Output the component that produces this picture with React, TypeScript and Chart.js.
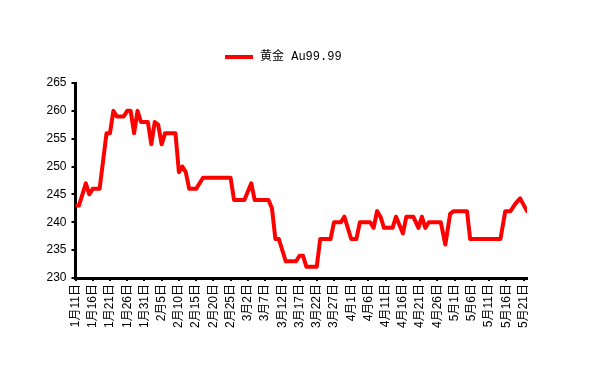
import React, { useEffect, useRef } from "react";
import { Chart, registerables } from "chart.js";

Chart.register(...registerables);

// Days counted from 1月11日
const dayOffsets = [
  0, 1, 3, 4, 5, 7, 9, 10, 11, 12, 14, 15, 16, 17, 18, 19, 21, 22, 23, 24, 25, 26, 29,
  30, 31, 32, 33, 35, 37, 45, 46, 49, 51, 52, 56, 57, 58, 59, 61, 64, 65, 66, 67, 70,
  71, 74, 75, 77, 78, 80, 81.5, 82.5, 85.5, 86.5, 87.5, 88.5, 89.5, 92, 93, 95, 96, 98,
  99.5, 100.5, 101.5, 102.5, 106, 107.3, 108.7, 109.7, 113.6, 114.5, 123.3, 124.7, 126.2,
  127.6, 129, 131,
];
const prices = [
  243, 243, 247, 245, 246, 246, 256, 256, 260, 259, 259, 260, 260, 256, 260, 258, 258, 254,
  258, 257.5, 254, 256, 256, 249, 250, 249, 246, 246, 248, 248, 244, 244, 247, 244, 244,
  242.5, 237, 237, 233, 233, 234, 234, 232, 232, 237, 237, 240, 240, 241, 237, 237, 240,
  240, 239, 242, 241, 239, 239, 241, 238, 241, 241, 239, 241, 239, 240, 240, 236, 241.5,
  242, 242, 237, 237, 242, 242, 243.3, 244.3, 242,
];
const tickLabels = [
  "1月11日", "1月16日", "1月21日", "1月26日", "1月31日", "2月5日", "2月10日", "2月15日",
  "2月20日", "2月25日", "3月2日", "3月7日", "3月12日", "3月17日", "3月22日", "3月27日",
  "4月1日", "4月6日", "4月11日", "4月16日", "4月21日", "4月26日", "5月1日", "5月6日",
  "5月11日", "5月16日", "5月21日",
];
const seriesName = "黄金 Au99.99";

const legendPlugin = {
  id: "lineLegend",
  afterDraw(chart: any) {
    const ctx = chart.ctx;
    const ds = chart.data.datasets[0];
    ctx.save();
    ctx.strokeStyle = ds.borderColor;
    ctx.lineWidth = 4;
    ctx.beginPath();
    ctx.moveTo(217, 49);
    ctx.lineTo(245, 49);
    ctx.stroke();
    ctx.fillStyle = "#000";
    ctx.font = "12px 'Liberation Mono', 'Noto Sans CJK SC'";
    ctx.textBaseline = "middle";
    ctx.textAlign = "left";
    ctx.fillText(ds.label, 252, 49);
    ctx.restore();
  },
};

export default function App() {
  const ref = useRef<HTMLCanvasElement>(null);
  useEffect(() => {
    if (!ref.current) return;
    const chart = new Chart(ref.current, {
      type: "line",
      data: {
        datasets: [
          {
            label: seriesName,
            data: dayOffsets.map((d, i) => ({ x: d, y: prices[i] })),
            borderColor: "#FF0000",
            backgroundColor: "#FF0000",
            borderWidth: 4,
            pointRadius: 0,
            tension: 0,
            borderJoinStyle: "round",
            borderCapStyle: "round",
          },
        ],
      },
      options: {
        responsive: false,
        animation: false,
        layout: { padding: { top: 75, right: 33, left: 0, bottom: 0 } },
        plugins: { legend: { display: false }, tooltip: { enabled: false } },
        scales: {
          x: {
            type: "linear",
            min: 0,
            max: 131,
            afterFit: (s: any) => {
              s.height = 89;
            },
            border: { display: true, color: "#000", width: 3 },
            grid: { drawOnChartArea: false, drawTicks: true, tickLength: 3, color: "#000", lineWidth: 2 },
            ticks: {
              stepSize: 5,
              includeBounds: false,
              autoSkip: false,
              minRotation: 90,
              maxRotation: 90,
              padding: 3,
              color: "#000",
              font: { family: "'Liberation Sans', 'Noto Sans CJK SC'", size: 12 },
              callback: (v: any) => {
                const i = Math.round(Number(v) / 5);
                return Number(v) % 5 === 0 ? tickLabels[i] ?? "" : "";
              },
            },
          },
          y: {
            min: 230,
            max: 265,
            afterFit: (s: any) => {
              s.width = 67.5;
            },
            border: { display: true, color: "#000", width: 3 },
            grid: { drawOnChartArea: false, drawTicks: true, tickLength: 4, color: "#000", lineWidth: 2 },
            ticks: {
              stepSize: 5,
              padding: 5,
              color: "#000",
              font: { family: "'Liberation Sans', Arial", size: 12 },
            },
          },
        },
      },
      plugins: [legendPlugin],
    });
    return () => chart.destroy();
  }, []);
  return <canvas ref={ref} width={552} height={359} style={{ display: "block" }} />;
}
